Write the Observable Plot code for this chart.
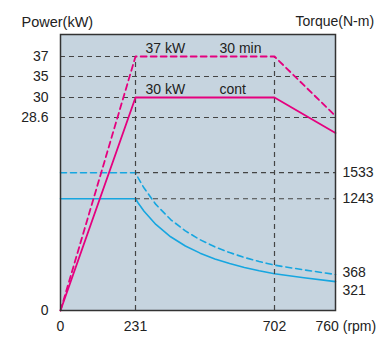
<!DOCTYPE html>
<html><head><meta charset="utf-8">
<script src="https://cdn.jsdelivr.net/npm/d3@7"></script>
<script src="https://cdn.jsdelivr.net/npm/@observablehq/plot@0.6"></script>
<style>
body{margin:0;background:#fff;}
#wrap{position:relative;width:378px;height:338px;overflow:hidden;}
#wrap svg{position:absolute;left:0;top:0;}
</style>
</head><body><div id="wrap"></div>
<script>
// Speed axis (rpm) – schematic, piecewise
const speedTicks = [0, 231, 702, 760];
// Power axis (kW) – schematic, piecewise
const powerTicks = [0, 28.6, 30, 35, 37];
// Torque tick labels (N-m)
const torqueTicks = [1533, 1243];
const torqueEndLabels = [368, 321];

// Power curves
const powerRpm = [0, 231, 702, 760];
const contPowerKW = [0, 30, 30, 26.3];      // "cont"
const maxPowerKW = [0, 37, 37, 28.7];       // "30 min"

// Torque curves
const torqueRpm = [0, 231, 240, 260, 300, 350, 400, 450, 500, 550, 600, 650, 702, 730, 760];
const contTorque = [1243, 1243, 1196, 1104, 957, 820, 718, 638, 574, 522, 479, 442, 409, 365, 321];
const maxTorque = [1533, 1533, 1475, 1362, 1180, 1012, 885, 787, 708, 644, 590, 545, 504, 452, 400];

const powerRows = (vals) => powerRpm.map((r, i) => ({rpm: r, kw: vals[i]}));
const torqueRows = (vals) => torqueRpm.map((r, i) => ({rpm: r, nm: vals[i]}));

const MAGENTA = "#e5007e", CYAN = "#16a6e0", GRID = "#444", BG = "#c6d4df";
const font = "'Liberation Sans', Arial, sans-serif";
const grid = {stroke: GRID, strokeDasharray: "5,4", strokeWidth: 1.2};

const common = {
  width: 378, height: 338,
  marginLeft: 60, marginRight: 43, marginTop: 34, marginBottom: 28,
  x: {type: "linear", domain: speedTicks, range: [60, 135, 274, 335], axis: null},
  style: {fontFamily: font, fontSize: "14px", color: "#222", overflow: "visible"}
};

// Bottom layer: torque
const torquePlot = Plot.plot({
  ...common,
  style: {...common.style, background: "#fff"},
  y: {type: "linear", domain: [0, 3070], axis: null},
  marks: [
    Plot.frame({fill: BG, stroke: null}),
    Plot.ruleY(torqueTicks, {x1: 231, x2: 760, ...grid}),
    Plot.line(torqueRows(maxTorque), {x: "rpm", y: "nm", stroke: CYAN, strokeWidth: 1.6, strokeDasharray: "6,4"}),
    Plot.line(torqueRows(contTorque), {x: "rpm", y: "nm", stroke: CYAN, strokeWidth: 1.6}),
    Plot.axisY(torqueTicks, {anchor: "right", tickSize: 0, tickPadding: 7, label: null, fill: "#222", tickFormat: d => String(d)}),
    Plot.text([torqueEndLabels[0]], {x: 760, y: d => d, text: d => String(d), textAnchor: "start", dx: 7, dy: -5, fill: "#222"}),
    Plot.text([torqueEndLabels[1]], {x: 760, y: d => d, text: d => String(d), textAnchor: "start", dx: 7, dy: 9, fill: "#222"}),
    Plot.text(["Torque(N-m)"], {frameAnchor: "top-right", dx: -40, dy: -18, textAnchor: "start", fill: "#222", fontSize: 14})
  ]
});

// Top layer: power
const powerPlot = Plot.plot({
  ...common,
  style: {...common.style, background: "transparent"},
  y: {type: "linear", domain: powerTicks, range: [310, 117, 97, 76, 56], axis: null},
  marks: [
    Plot.ruleY([35, 28.6], {x1: 0, x2: 760, ...grid}),
    Plot.ruleY([37, 30], {x1: 0, x2: 231, ...grid}),
    Plot.ruleX([231, 702], {y1: 0, y2: 37, ...grid}),
    Plot.line(powerRows(maxPowerKW), {x: "rpm", y: "kw", stroke: MAGENTA, strokeWidth: 1.8, strokeDasharray: "6,4"}),
    Plot.line(powerRows(contPowerKW), {x: "rpm", y: "kw", stroke: MAGENTA, strokeWidth: 1.8}),
    Plot.text(["37 kW"], {x: 231, y: 37, textAnchor: "start", dx: 10, dy: -8, fill: "#222"}),
    Plot.text(["30 min"], {x: 231, y: 37, textAnchor: "start", dx: 84, dy: -8, fill: "#222"}),
    Plot.text(["30 kW"], {x: 231, y: 30, textAnchor: "start", dx: 10, dy: -8, fill: "#222"}),
    Plot.text(["cont"], {x: 231, y: 30, textAnchor: "start", dx: 84, dy: -8, fill: "#222"}),
    Plot.axisY(powerTicks, {anchor: "left", tickSize: 0, tickPadding: 12, label: null, fill: "#222", tickFormat: d => String(d)}),
    Plot.axisX(speedTicks.slice(0, 3), {anchor: "bottom", tickSize: 0, tickPadding: 11, label: null, fill: "#222", tickFormat: d => String(d)}),
    Plot.text([speedTicks[3] + " (rpm)"], {x: speedTicks[3], frameAnchor: "bottom", lineAnchor: "top", dy: 11, dx: -20, textAnchor: "start", fill: "#222"}),
    Plot.text(["Power(kW)"], {frameAnchor: "top-left", dx: -39, dy: -18, textAnchor: "start", fill: "#222", fontSize: 14.5}),
    Plot.frame({stroke: "#333", strokeWidth: 1.5})
  ]
});

const wrap = document.getElementById("wrap");
wrap.appendChild(torquePlot);
wrap.appendChild(powerPlot);
</script>
</body></html>
